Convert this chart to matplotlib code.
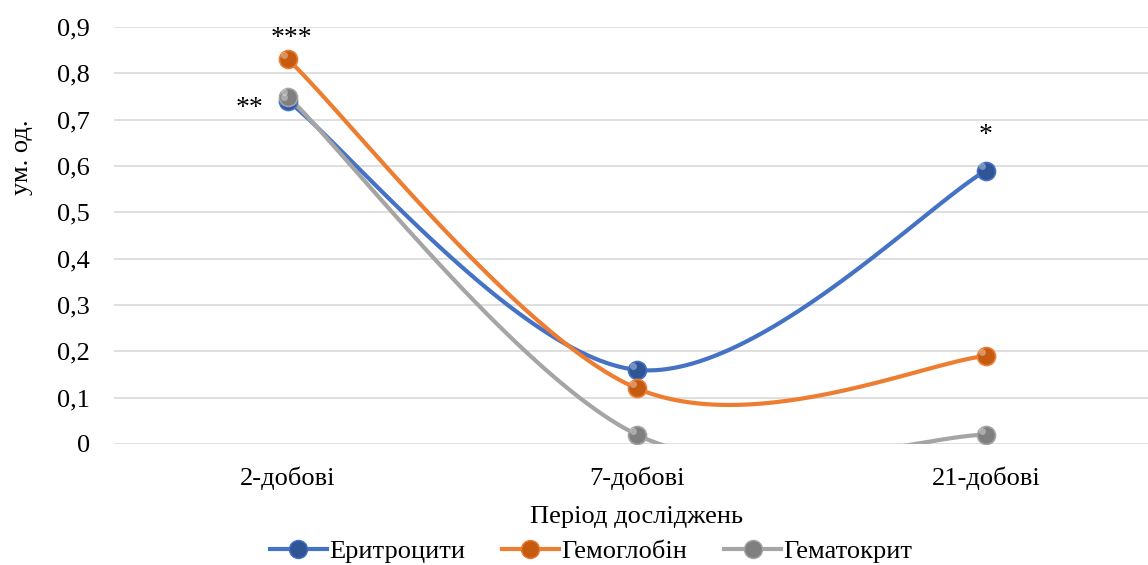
import matplotlib.pyplot as plt
import numpy as np
from matplotlib.ticker import FuncFormatter

plt.rcParams["font.family"] = ["Liberation Serif", "DejaVu Serif"]

categories = ["2-добові", "7-добові", "21-добові"]
erythrocytes = [0.74, 0.16, 0.59]
hemoglobin = [0.83, 0.12, 0.19]
hematocrit = [0.75, 0.02, 0.02]
series_names = ["Еритроцити", "Гемоглобін", "Гематокрит"]
stars = ["**", "***", "*"]

line_colors = ["#4472C4", "#ED7D31", "#A5A5A5"]
marker_colors = ["#2F5597", "#C55A11", "#7F7F7F"]


# Excel-like smoothed line: cubic Bezier through points (Catmull-Rom style)
def smooth(xs, ys, n=60):
    pts = np.column_stack([xs, ys]).astype(float)
    padded = np.vstack([pts[0], pts, pts[-1]])
    out = []
    t = np.linspace(0, 1, n)[:, None]
    for i in range(len(pts) - 1):
        p0, p1, p2, p3 = padded[i], padded[i + 1], padded[i + 2], padded[i + 3]
        c1 = p1 + (p2 - p0) / 6
        c2 = p2 - (p3 - p1) / 6
        seg = ((1 - t) ** 3) * p1 + 3 * ((1 - t) ** 2) * t * c1 + 3 * (1 - t) * t ** 2 * c2 + t ** 3 * p2
        out.append(seg)
    out = np.vstack(out)
    return out[:, 0], out[:, 1]


fig = plt.figure(figsize=(11.48, 5.65), dpi=100)
ax = fig.add_axes([113.5 / 1148, 121 / 565, 1047 / 1148, 417 / 565])

x = np.arange(len(categories))
handles = []
for vals, name, lc, mc in zip([erythrocytes, hemoglobin, hematocrit], series_names, line_colors, marker_colors):
    sx, sy = smooth(x, vals)
    ax.plot(sx, sy, color=lc, lw=3, solid_capstyle="round", zorder=3)
    ax.plot(x, vals, "o", ms=13, mfc=mc, mec=lc, mew=1.2, zorder=4)
    ax.plot(x - 0.012, np.array(vals) + 0.009, "o", ms=5, mfc="white", mec="none", alpha=0.35, zorder=5)
    h, = ax.plot([], [], color=lc, lw=3, marker="o", ms=13, mfc=mc, mec=lc, label=name)
    handles.append(h)

# significance marks
ax.text(x[0] - 0.11, erythrocytes[0] - 0.015, stars[0], ha="center", va="center", fontsize=20)
ax.text(x[0] + 0.01, hemoglobin[0] + 0.045, stars[1], ha="center", va="center", fontsize=20)
ax.text(x[2], erythrocytes[2] + 0.075, stars[2], ha="center", va="center", fontsize=20)

ax.set_xlim(-0.5, 2.5)
ax.set_ylim(0, 0.9)
ax.set_yticks(np.arange(0, 0.91, 0.1))
ax.yaxis.set_major_formatter(FuncFormatter(lambda v, p: "0" if abs(v) < 1e-9 else f"{v:.1f}".replace(".", ",")))
ax.set_xticks(x)
ax.set_xticklabels(categories)
ax.grid(axis="y", color="#D9D9D9", lw=1.2)
ax.set_axisbelow(True)
for s in ax.spines.values():
    s.set_visible(False)
ax.tick_params(length=0, labelsize=19)
ax.tick_params(axis="x", pad=16)
ax.tick_params(axis="y", pad=17)

ax.set_xlabel("Період досліджень", fontsize=19, labelpad=12)
ax.set_ylabel("ум. од.", fontsize=19)
ax.yaxis.set_label_coords(-0.077, 0.687)

fig.legend(handles=handles, loc="center", bbox_to_anchor=(0.515, 0.024), ncol=3, frameon=False,
           fontsize=19, handlelength=2.15, columnspacing=1.4, handletextpad=0.1)

fig.savefig("out.png", dpi=100)
